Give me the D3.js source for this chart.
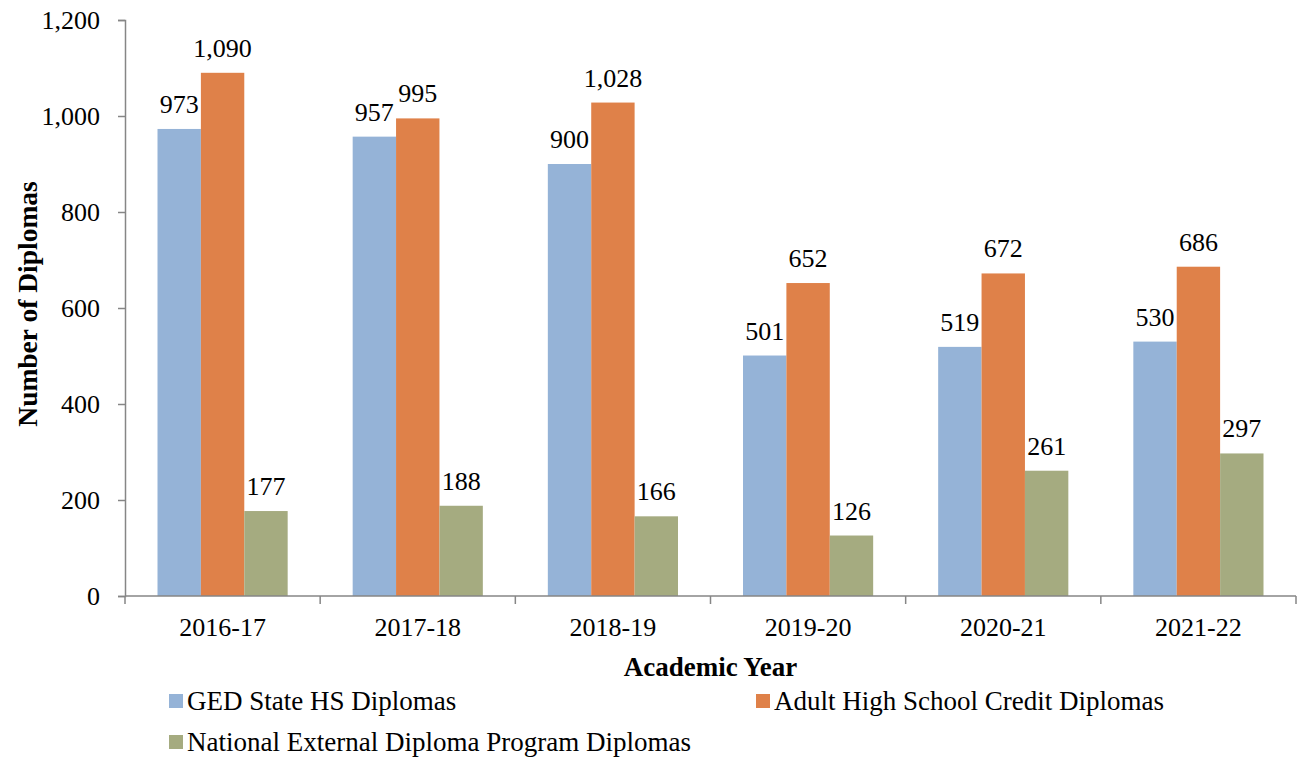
<!DOCTYPE html>
<html>
<head>
<meta charset="utf-8">
<script src="https://cdn.jsdelivr.net/npm/d3@7"></script>
<style>
  body { margin: 0; background: #fff; }
  svg text { font-family: "Liberation Serif", "Times New Roman", serif; fill: #000; }
</style>
</head>
<body>
<svg id="chart" width="1299" height="757"></svg>
<script>
// chart data
const years = ['2016-17', '2017-18', '2018-19', '2019-20', '2020-21', '2021-22'];
const seriesNames = ['GED State HS Diplomas', 'Adult High School Credit Diplomas', 'National External Diploma Program Diplomas'];
const gedValues = [973, 957, 900, 501, 519, 530];
const adultValues = [1090, 995, 1028, 652, 672, 686];
const nedpValues = [177, 188, 166, 126, 261, 297];
const yTicks = [0, 200, 400, 600, 800, 1000, 1200];

const colors = ['#95B3D7', '#DF8149', '#A5AB80'];
const allValues = [gedValues, adultValues, nedpValues];

const svg = d3.select('#chart');
const plotL = 125, plotR = 1296, plotT = 20, plotB = 596;

// scales
const x0 = d3.scaleBand().domain(years).range([plotL, plotR]).padding(0);
const x1 = d3.scaleBand().domain(d3.range(seriesNames.length))
  .range([32.5, x0.bandwidth() - 32.5]).padding(0);
const y = d3.scaleLinear().domain([0, 1200]).range([plotB, plotT]);

// bars + labels
const groups = svg.append('g').selectAll('g')
  .data(years)
  .join('g')
    .attr('transform', d => 'translate(' + x0(d) + ',0)');

groups.selectAll('rect')
  .data((d, i) => allValues.map((vals, s) => ({s: s, v: vals[i]})))
  .join('rect')
    .attr('x', d => x1(d.s))
    .attr('y', d => y(d.v))
    .attr('width', x1.bandwidth())
    .attr('height', d => y(0) - y(d.v))
    .attr('fill', d => colors[d.s]);

groups.selectAll('text')
  .data((d, i) => allValues.map((vals, s) => ({s: s, v: vals[i]})))
  .join('text')
    .attr('x', d => x1(d.s) + x1.bandwidth() / 2)
    .attr('y', d => y(d.v) - 16)
    .attr('text-anchor', 'middle')
    .style('font-size', '26px')
    .text(d => d3.format(',')(d.v));

// y axis
const yAxis = d3.axisLeft(y).tickValues(yTicks).tickFormat(d3.format(',')).tickSize(7).tickPadding(18);
const gy = svg.append('g').attr('transform', 'translate(' + plotL + ',0)').call(yAxis);
gy.select('.domain').attr('stroke', '#868686').attr('stroke-width', 1.5);
gy.selectAll('.tick line').attr('stroke', '#868686').attr('stroke-width', 1.5);
gy.selectAll('.tick text').style('font-size', '26px').attr('font-family', null);

// x axis: line + boundary ticks
svg.append('line')
  .attr('x1', plotL).attr('x2', plotR)
  .attr('y1', plotB).attr('y2', plotB)
  .attr('stroke', '#868686').attr('stroke-width', 1.5);
svg.append('g').selectAll('line')
  .data(years.concat(['end']))
  .join('line')
    .attr('x1', (d, i) => i < years.length ? x0(d) : plotR)
    .attr('x2', (d, i) => i < years.length ? x0(d) : plotR)
    .attr('y1', plotB).attr('y2', plotB + 8)
    .attr('stroke', '#868686').attr('stroke-width', 1.5);
svg.append('g').selectAll('text')
  .data(years)
  .join('text')
    .attr('x', d => x0(d) + x0.bandwidth() / 2)
    .attr('y', 636)
    .attr('text-anchor', 'middle')
    .style('font-size', '26px')
    .text(d => d);

// axis titles
svg.append('text')
  .attr('x', (plotL + plotR) / 2).attr('y', 676)
  .attr('text-anchor', 'middle')
  .style('font-size', '27px').style('font-weight', 'bold')
  .text('Academic Year');

svg.append('text')
  .attr('transform', 'translate(37,304) rotate(-90)')
  .attr('text-anchor', 'middle')
  .style('font-size', '27.5px').style('font-weight', 'bold')
  .text('Number of Diplomas');

// legend
const legendPos = [[169, 701], [756, 701], [169, 742]];
const legend = svg.append('g').selectAll('g')
  .data(seriesNames)
  .join('g')
    .attr('transform', (d, i) => 'translate(' + legendPos[i][0] + ',' + legendPos[i][1] + ')');
legend.append('rect')
  .attr('x', 0).attr('y', -7).attr('width', 14).attr('height', 14)
  .attr('fill', (d, i) => colors[i]);
legend.append('text')
  .attr('x', 18).attr('y', 9)
  .style('font-size', '27px')
  .text(d => d);
</script>
</body>
</html>
